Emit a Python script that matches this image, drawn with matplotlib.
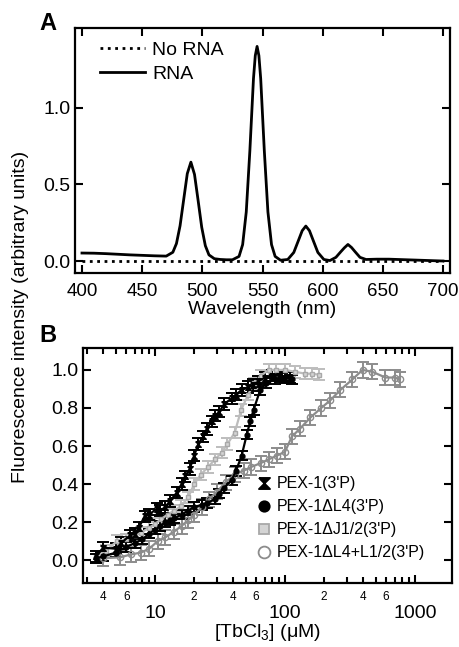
import numpy as np
import matplotlib.pyplot as plt
from matplotlib.ticker import FixedLocator, FuncFormatter
from matplotlib.lines import Line2D

plt.rcParams['font.family'] = ['Liberation Sans', 'DejaVu Sans']
plt.rcParams['mathtext.fontset'] = 'custom'
plt.rcParams['mathtext.rm'] = 'Liberation Sans'

# ---- panel A: emission spectrum ----
wavelength = [400, 410, 420, 430, 440, 450, 460, 470, 475.5, 478.5, 481.5, 484.5,
              487.5, 490.5, 493.5, 496.5, 499.5, 502.5, 505.5, 510, 515, 520, 525,
              530.5, 533.5, 536.5, 539.5, 542.5, 544, 545.5, 547, 548.5, 551.5,
              554.5, 557.5, 560.5, 565, 571, 576, 580, 583, 586, 589, 592, 596,
              601, 606, 611, 615, 618, 621, 624, 627, 631, 636, 645, 655, 670,
              685, 700]
rna = [0.052, 0.051, 0.048, 0.044, 0.040, 0.037, 0.034, 0.032, 0.057, 0.114,
       0.23, 0.40, 0.57, 0.645, 0.565, 0.395, 0.22, 0.10, 0.04, 0.015, 0.010,
       0.008, 0.008, 0.03, 0.107, 0.32, 0.72, 1.19, 1.34, 1.40, 1.34, 1.19,
       0.72, 0.32, 0.107, 0.03, 0.005, 0.010, 0.056, 0.137, 0.198, 0.228,
       0.198, 0.137, 0.056, 0.010, 0.003, 0.024, 0.06, 0.086, 0.108, 0.088,
       0.06, 0.024, 0.010, 0.012, 0.012, 0.008, 0.004, 0.0]
no_rna_x = [400, 700]
no_rna = [0.0, 0.0]

# ---- panel B: titrations ----
s1_x = [3.5, 4, 5, 5.5, 6.4, 7, 7.5, 8.3, 9, 10.3, 11, 12, 13, 14.7, 16, 17,
        18.5, 20, 21.5, 23.5, 25, 27.2, 29, 31.3, 34, 38.8, 42, 46.4, 52, 57,
        62.5, 70, 80, 90, 100, 110]
s1_y = [0.02, 0.066, 0.06, 0.09, 0.13, 0.14, 0.17, 0.23, 0.24, 0.27, 0.26,
        0.28, 0.31, 0.355, 0.40, 0.44, 0.48, 0.55, 0.61, 0.65, 0.69, 0.73,
        0.76, 0.78, 0.82, 0.85, 0.87, 0.895, 0.91, 0.92, 0.94, 0.96, 0.97,
        0.97, 0.96, 0.96]
s2_x = [3.5, 4, 5, 6, 7, 8, 9, 10, 11, 12, 13, 14, 16, 18, 20, 22.8, 25, 28.8,
        31, 34, 38.8, 42, 46.4, 50.8, 54, 57.3, 64.5, 72, 84, 95, 113]
s2_y = [0.01, 0.02, 0.04, 0.07, 0.09, 0.11, 0.14, 0.16, 0.18, 0.20, 0.21, 0.22,
        0.24, 0.26, 0.28, 0.29, 0.30, 0.32, 0.35, 0.38, 0.42, 0.47, 0.55, 0.66,
        0.73, 0.79, 0.895, 0.93, 0.95, 0.96, 0.95]
s3_x = [3.5, 4.2, 5.1, 6, 7, 7.8, 9, 10, 11.1, 12.5, 14, 15.9, 18, 20, 22.5,
        25.6, 29, 32.5, 36, 41, 46, 52, 58, 65, 75, 85, 100, 120, 143, 160, 183]
s3_y = [0.02, 0.05, 0.10, 0.11, 0.13, 0.145, 0.17, 0.19, 0.215, 0.24, 0.26,
        0.285, 0.33, 0.40, 0.45, 0.49, 0.53, 0.565, 0.61, 0.67, 0.79, 0.87,
        0.93, 0.97, 1.0, 1.0, 1.0, 0.99, 0.98, 0.98, 0.975]
s4_x = [4, 5.4, 6.5, 7.8, 9, 10.5, 12, 14, 16, 18, 20, 23, 26, 30, 35, 41, 48,
        55, 65, 75, 87, 100, 113, 130, 157, 190, 223, 267, 330, 395, 470, 593,
        700, 765]
s4_y = [0.01, 0.015, 0.03, 0.04, 0.06, 0.10, 0.12, 0.15, 0.18, 0.21, 0.24,
        0.28, 0.32, 0.36, 0.41, 0.45, 0.47, 0.49, 0.51, 0.53, 0.55, 0.57, 0.65,
        0.69, 0.75, 0.80, 0.84, 0.895, 0.95, 1.0, 0.99, 0.96, 0.96, 0.95]
errors = [0.03, 0.025, 0.03, 0.04]
labels_b = ["PEX-1(3'P)", "PEX-1ΔL4(3'P)", "PEX-1ΔJ1/2(3'P)",
            "PEX-1ΔL4+L1/2(3'P)"]

hourglass = [(-1, 1), (1, 1), (-1, -1), (1, -1), (-1, 1)]

fig = plt.figure(figsize=(4.59, 6.47), dpi=100)
axA = fig.add_axes([0.1634, 0.5781, 0.817, 0.3786])
axB = fig.add_axes([0.1808, 0.0989, 0.804, 0.3632])

for ax in (axA, axB):
    for sp in ax.spines.values():
        sp.set_linewidth(1.6)
    ax.tick_params(which='both', direction='in', top=True, right=True,
                   width=1.5, labelsize=14)
    ax.tick_params(which='major', length=6)

# panel A
axA.plot(no_rna_x, no_rna, color='black', linestyle=':', linewidth=2,
         label='No RNA')
axA.plot(wavelength, rna, color='black', linewidth=2, label='RNA')
axA.set_xlim(394.2, 705.8)
axA.set_ylim(-0.078, 1.52)
axA.set_xticks([400, 450, 500, 550, 600, 650, 700])
axA.set_yticks([0, 0.5, 1.0])
axA.yaxis.set_major_formatter(FuncFormatter(lambda v, p: f'{v:.1f}'))
axA.tick_params(axis='x', pad=7, labelsize=13.5)
axA.set_xlabel('Wavelength (nm)', fontsize=14, labelpad=1)
axA.legend(loc='upper left', bbox_to_anchor=(0.03, 1.0), frameon=False,
           fontsize=14, handlelength=2.3, handletextpad=0.4,
           labelspacing=0.3, borderaxespad=0.3)

# panel B
styles = [
    dict(color='black', marker=hourglass, ms=4, mfc='black', mec='black'),
    dict(color='black', marker='o', ms=3.5, mfc='black', mec='black'),
    dict(color='#bdbdbd', marker='s', ms=3.5, mfc='#d4d4d4', mec='#a8a8a8'),
    dict(color='#8c8c8c', marker='o', ms=4.5, mfc='none', mec='#8c8c8c'),
]
series = [(s1_x, s1_y), (s2_x, s2_y), (s3_x, s3_y), (s4_x, s4_y)]
order = [3, 2, 1, 0]
for i in order:
    xs, ys = series[i]
    st = styles[i]
    axB.errorbar(xs, ys, yerr=errors[i], color=st['color'], ecolor=st['color'],
                 marker=st['marker'], ms=st['ms'], mfc=st['mfc'],
                 mec=st['mec'], linewidth=1.6, elinewidth=1.4, capsize=4.5,
                 capthick=1.4)

axB.set_xscale('log')
axB.set_xlim(2.79, 1928)
axB.set_ylim(-0.12, 1.115)
axB.set_yticks([0, 0.2, 0.4, 0.6, 0.8, 1.0])
axB.yaxis.set_major_formatter(FuncFormatter(lambda v, p: f'{v:.1f}'))
axB.set_xticks([10, 100, 1000])
axB.xaxis.set_major_formatter(FuncFormatter(lambda v, p: f'{v:g}'))
minor = [m * 10 ** d for d in range(0, 3) for m in range(2, 10)]
axB.xaxis.set_minor_locator(FixedLocator(minor))


def minor_fmt(v, p):
    m = v / 10 ** np.floor(np.log10(v) + 1e-9)
    k = int(round(m))
    return str(k) if k in (2, 4, 6) else ''


axB.xaxis.set_minor_formatter(FuncFormatter(minor_fmt))
axB.tick_params(axis='x', which='minor', length=4, labelsize=8.5, pad=6)
axB.tick_params(axis='x', which='major', length=6, pad=16)
axB.set_xlabel('[TbCl$_\\mathrm{3}$] (μM)', fontsize=14, labelpad=0)

handles = [Line2D([], [], linestyle='none', marker=styles[i]['marker'],
                  ms=styles[i]['ms'] + 4, mfc=styles[i]['mfc'],
                  mec=styles[i]['mec'], mew=1.3) for i in range(4)]
axB.legend(handles, labels_b, loc='lower left', bbox_to_anchor=(0.43, 0.035),
           frameon=False, fontsize=11.5, handlelength=1.0, handletextpad=0.3,
           labelspacing=0.5)

fig.text(0.045, 0.51, 'Fluorescence intensity (arbitrary units)',
         rotation=90, ha='center', va='center', fontsize=14)
fig.text(48 / 459, 1 - 24 / 647, 'A', fontsize=17, fontweight='bold',
         ha='center', va='center')
fig.text(48 / 459, 1 - 336 / 647, 'B', fontsize=17, fontweight='bold',
         ha='center', va='center')

fig.savefig('out.png', dpi=100)
